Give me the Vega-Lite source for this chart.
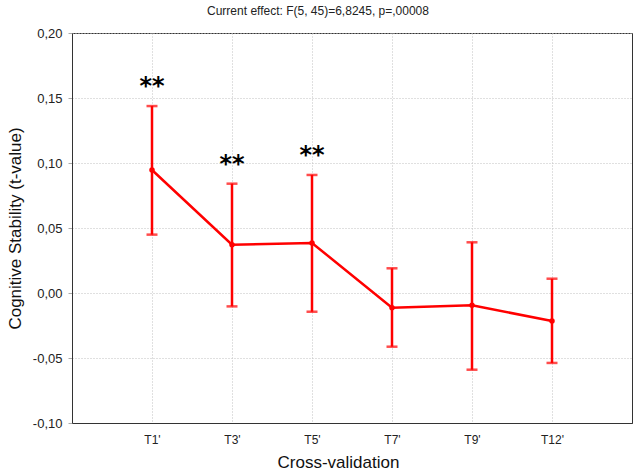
{
  "$schema": "https://vega.github.io/schema/vega-lite/v6.json",
  "autosize": "none",
  "padding": {"left": 72, "top": 33, "right": 6, "bottom": 52},
  "width": 560,
  "height": 390,
  "background": "white",
  "title": {
    "text": "Current effect: F(5, 45)=6,8245, p=,00008",
    "font": "Liberation Sans",
    "fontSize": 12,
    "fontWeight": "normal",
    "color": "#222222",
    "anchor": "middle",
    "frame": "group",
    "dx": -34,
    "offset": 9
  },
  "config": {
    "view": {"stroke": "#333333", "strokeWidth": 1},
    "font": "Liberation Sans",
    "axis": {
      "labelFont": "Liberation Sans",
      "titleFont": "Liberation Sans",
      "labelColor": "#222222",
      "titleColor": "#111111",
      "domainColor": "#333333",
      "gridColor": "#c0c0c0",
      "gridDash": [1, 2],
      "gridWidth": 1,
      "titleFontWeight": "normal"
    }
  },
  "data": {
    "values": [
      {"t": "T1'", "mean": 0.0946, "lo": 0.0449, "hi": 0.1438, "sig": "**"},
      {"t": "T3'", "mean": 0.0372, "lo": -0.0103, "hi": 0.0841, "sig": "**"},
      {"t": "T5'", "mean": 0.0385, "lo": -0.0144, "hi": 0.0908, "sig": "**"},
      {"t": "T7'", "mean": -0.0113, "lo": -0.0413, "hi": 0.019, "sig": ""},
      {"t": "T9'", "mean": -0.0095, "lo": -0.059, "hi": 0.039, "sig": ""},
      {"t": "T12'", "mean": -0.0215, "lo": -0.0538, "hi": 0.011, "sig": ""}
    ]
  },
  "encoding": {
    "x": {
      "field": "t",
      "type": "ordinal",
      "sort": null,
      "scale": {"type": "point", "padding": 1},
      "axis": {
        "title": "Cross-validation",
        "labelAngle": 0,
        "labelFontSize": 12,
        "labelPadding": 11,
        "ticks": false,
        "grid": true,
        "titleFontSize": 17,
        "titleX": 266,
        "titleY": 39,
        "titleBaseline": "middle"
      }
    }
  },
  "layer": [
    {
      "mark": {"type": "rule", "color": "#ff0000", "strokeWidth": 2.5},
      "encoding": {
        "y": {
          "field": "lo",
          "type": "quantitative",
          "scale": {"domain": [-0.1, 0.2], "nice": false, "zero": false},
          "axis": {
            "title": "Cognitive Stability (t-value)",
            "values": [-0.1, -0.05, 0, 0.05, 0.1, 0.15, 0.2],
            "labelExpr": "replace(replace(format(datum.value, '.2f'), '.', ','), '\u2212', '-')",
            "labelFontSize": 13,
            "labelPadding": 6,
            "tickSize": 4,
            "tickColor": "#aaaaaa",
            "grid": true,
            "titleFontSize": 17,
            "titleX": -57,
            "titleY": 195,
            "titleBaseline": "middle"
          }
        },
        "y2": {"field": "hi"}
      }
    },
    {
      "mark": {"type": "tick", "color": "#ff0000", "thickness": 2.5, "size": 11, "orient": "horizontal"},
      "encoding": {"y": {"field": "lo", "type": "quantitative"}}
    },
    {
      "mark": {"type": "tick", "color": "#ff0000", "thickness": 2.5, "size": 11, "orient": "horizontal"},
      "encoding": {"y": {"field": "hi", "type": "quantitative"}}
    },
    {
      "mark": {"type": "line", "color": "#ff0000", "strokeWidth": 2.5},
      "encoding": {"y": {"field": "mean", "type": "quantitative"}}
    },
    {
      "mark": {"type": "point", "filled": true, "color": "#ff0000", "size": 30, "opacity": 1},
      "encoding": {"y": {"field": "mean", "type": "quantitative"}}
    },
    {
      "mark": {"type": "text", "dy": -19, "fontSize": 24, "fontWeight": "bold", "font": "DejaVu Sans", "color": "#000000", "baseline": "middle"},
      "encoding": {
        "y": {"field": "hi", "type": "quantitative"},
        "text": {"field": "sig"}
      }
    }
  ]
}
